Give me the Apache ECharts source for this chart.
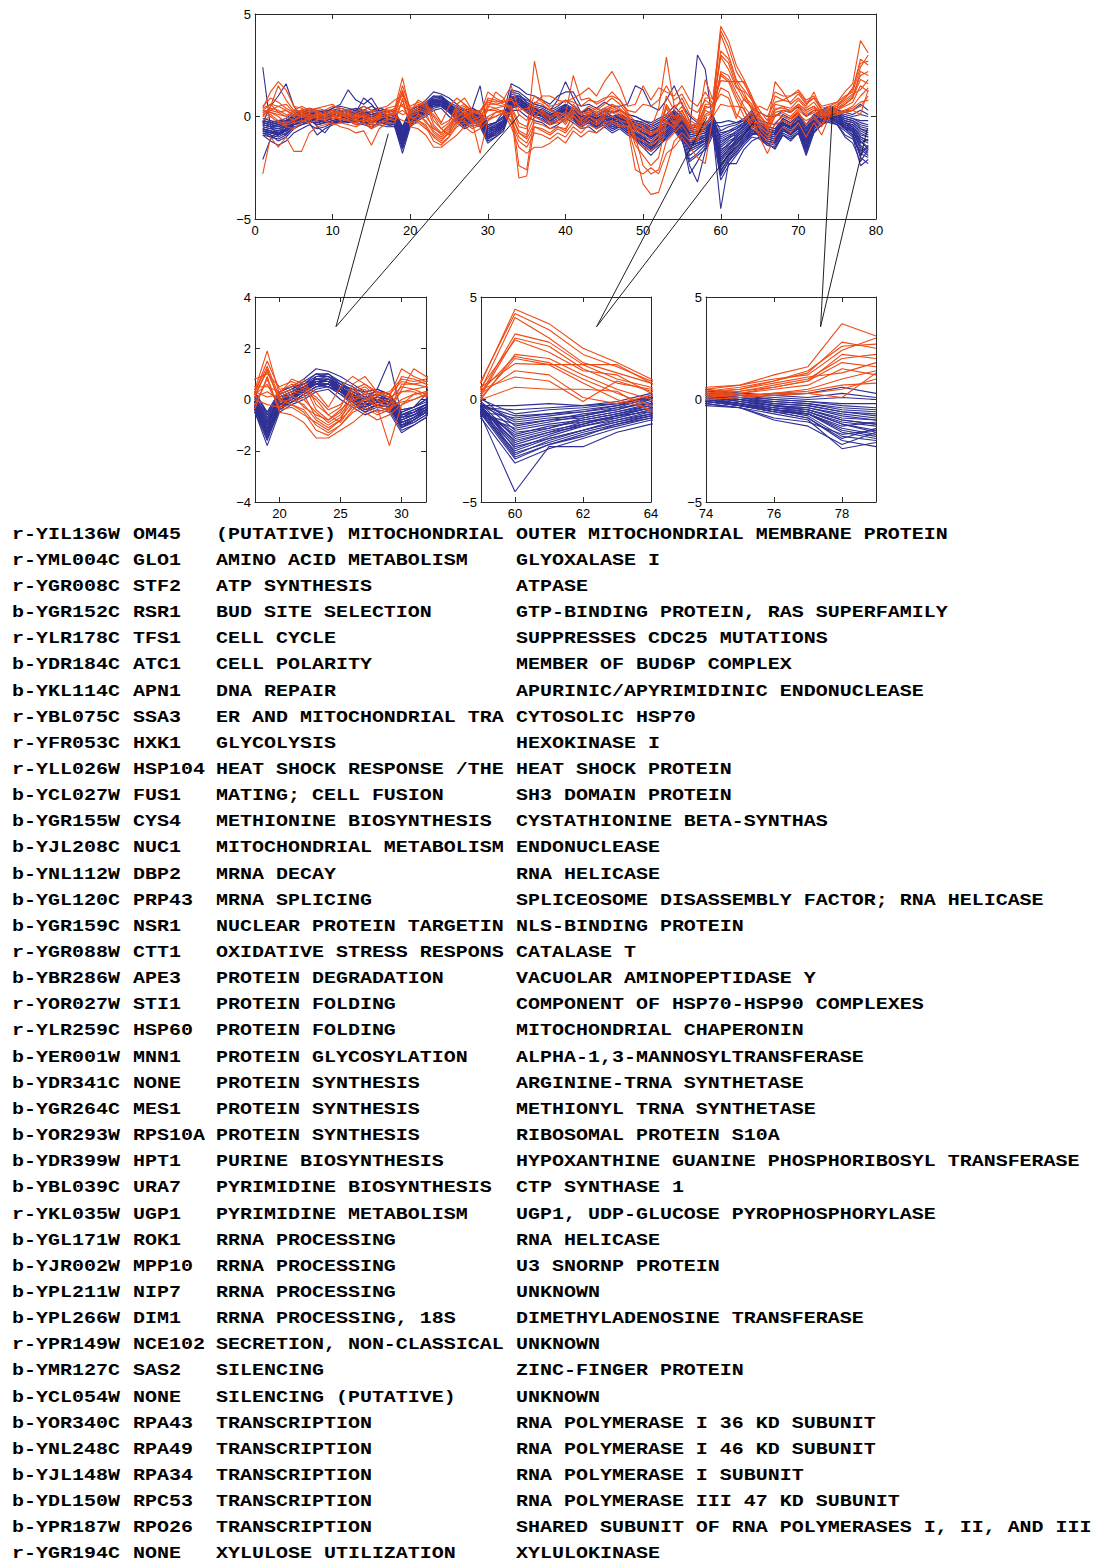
<!DOCTYPE html>
<html><head><meta charset="utf-8">
<script src="https://cdn.jsdelivr.net/npm/echarts@6/dist/echarts.min.js"></script>
<style>html,body{margin:0;padding:0;background:#fff}#c{width:1097px;height:1563px}</style>
</head><body><div id="c"></div>
<script>
// time points 1..79
const timePoints = Array.from({length: 79}, (_, i) => i + 1);

// orange (r-) cluster profiles
const o1 = [0.3,0.6,0.5,0.3,0.1,0.2,-0.1,0.2,0.1,0.2, 0.1,-0.1,-0.2,0.1,-0.1,0.1,0.2,0.4,1.9,0.2, 0.8,0.6,-0.4,-0.8,-0.5,0.3,0.5,0.1,-0.2,0.9, 0.8,0.6,0.5,-0.3,-0.5,0.5,0.2,-0.1,0.1,-0.3, 0.6,0.2,0.5,0.3,0.6,0.9,0.6,0.1,-0.6,-0.9, -1.2,-0.9,0.6,0.0,0.5,-0.2,-0.4,1.8,0.8,4.4, 3.7,2.5,1.8,1.0,0.0,-0.4,0.6,0.5,0.4,0.8, 0.4,0.7,0.2,0.3,0.5,0.9,1.3,2.8,2.5];
const o2 = [0.5,0.9,0.7,0.4,0.2,0.3,0.1,0.0,0.2,0.3, 0.2,0.1,0.0,0.2,0.0,0.2,0.3,0.3,1.5,0.4, 0.5,0.8,-0.2,-0.6,-0.3,0.6,0.9,0.3,0.1,1.2, 0.9,0.7,0.9,0.1,-0.2,0.7,0.6,0.3,0.2,0.1, 2.0,0.8,0.9,0.6,0.8,1.2,0.8,0.2,-0.3,-0.5, -0.8,-0.6,1.0,0.3,0.9,0.1,-0.2,0.9,0.9,4.2, 3.4,2.2,1.6,0.9,0.3,-0.2,1.0,0.8,0.7,1.1, 0.6,0.9,0.4,0.5,0.7,1.2,1.6,3.7,3.1];
const o3 = [0.4,1.2,1.7,1.3,0.5,0.4,0.2,0.3,0.0,0.1, 0.0,0.2,-0.1,0.0,-0.3,0.1,0.2,0.3,1.3,0.1, 0.3,0.2,-0.7,-1.0,-0.7,-0.1,0.3,0.0,-0.4,0.6, 0.6,0.5,0.4,-0.5,-0.6,0.3,0.1,-0.3,-0.2,-0.1, 0.5,0.1,0.3,0.2,0.4,0.6,0.4,0.0,-0.5,-0.3, -0.6,0.4,2.9,0.5,0.7,-0.3,-0.6,0.4,0.5,4.0, 3.0,1.8,1.3,0.8,-0.1,-0.5,0.4,0.4,0.3,0.6, 0.3,0.5,0.1,0.1,0.3,0.6,0.9,2.2,2.0];
const o4 = [0.1,0.3,0.5,0.6,0.2,0.0,-0.2,0.1,-0.1,0.0, -0.1,-0.2,-0.3,-0.1,-0.4,-0.1,0.0,0.1,1.2,-0.1, 0.0,-0.2,-0.8,-1.1,-0.8,0.2,0.4,-0.2,-0.5,0.4, 1.2,0.9,0.2,-0.8,-1.0,2.7,0.8,0.4,0.0,-0.4, 0.2,-0.1,0.1,0.0,0.2,0.4,0.2,-0.1,-1.0,-1.2, -1.4,-1.1,0.1,-0.4,0.1,-0.6,-0.8,0.1,0.3,3.2, 2.8,1.7,1.0,0.6,-0.2,-0.5,1.7,1.2,0.6,0.9, 0.5,1.2,0.3,0.4,0.6,0.9,1.4,2.6,2.7];
const o5 = [0.0,0.5,1.5,0.8,0.3,0.2,0.0,0.1,0.1,0.2, 0.1,0.0,-0.1,0.1,-0.1,0.0,0.1,0.2,1.1,0.0, -0.2,-0.4,-1.0,-1.3,-1.0,-0.4,0.0,-0.3,-1.8,-0.2, 0.2,0.3,0.1,-0.8,-1.1,-0.3,-0.4,-0.6,-0.5,-0.6, 0.0,-0.3,0.0,-0.2,0.1,0.3,0.1,-0.2,-1.2,-1.5, -1.7,-1.3,-0.2,-0.6,-0.1,-0.7,-0.9,0.0,0.2,3.0, 2.6,1.5,0.8,0.5,-0.4,-0.8,0.1,0.0,-0.1,0.3, 0.0,0.2,-0.1,0.2,0.3,0.5,0.7,1.5,1.2];
const o6 = [0.3,0.2,0.1,0.0,-0.2,0.1,0.3,0.4,0.5,0.6, 0.3,0.2,0.1,0.3,0.2,0.4,0.5,0.8,1.0,0.5, 0.7,0.5,0.3,-0.3,0.5,0.9,0.6,0.2,0.3,0.8, 0.7,0.8,1.5,0.3,0.4,0.6,1.0,1.0,0.8,0.7, 0.9,1.1,1.4,1.0,1.7,2.2,1.5,0.5,0.6,1.5, 0.8,1.4,1.2,1.0,1.5,0.8,0.5,1.2,0.6,2.9, 2.3,1.4,1.2,0.3,0.5,0.3,1.2,1.0,1.0,1.3, 0.8,1.0,0.5,0.6,0.7,1.0,1.2,2.4,3.0];
const o7 = [-2.8,-1.0,-1.5,-1.0,-1.7,-1.7,-0.8,-0.5,-0.4,-0.3, -0.5,-0.6,-0.8,-0.7,-1.4,-0.6,-0.3,-0.35,0.9,-0.5, -0.6,-0.9,-1.5,-1.5,-1.2,-0.9,-0.5,-0.8,-0.6,-0.2, 0.0,0.2,-0.5,-1.5,-1.8,-1.5,-1.5,-1.3,-1.0,-1.3, -0.7,-1.0,-0.7,-0.8,-0.5,-0.3,-0.5,-0.5,-2.6,-2.8, -2.5,-2.8,-1.8,-1.5,-1.0,-1.5,-2.0,-2.3,0.0,2.2, 2.0,1.2,0.5,0.0,-1.0,-1.8,-1.0,-0.5,-0.8,-0.3, -1.0,-0.3,-0.9,0.0,0.1,0.3,0.5,1.0,1.4];
const o8 = [0.2,0.4,0.3,0.1,0.0,0.3,0.4,0.2,0.0,0.1, -0.2,0.0,0.1,0.0,-0.2,-0.1,0.0,0.2,0.6,-0.3, 0.1,0.0,-0.5,-0.9,-0.6,0.1,0.2,-0.2,0.0,0.5, 0.4,0.2,0.0,-0.7,-0.9,0.0,-0.2,-0.4,-0.3,-0.2, 0.3,-0.2,0.2,0.4,0.2,0.5,0.3,0.1,-0.7,-0.6, -0.9,-0.7,0.4,-0.3,0.3,-0.5,-0.3,0.5,0.4,2.1, 1.8,1.0,0.3,-0.3,-0.3,-0.6,0.2,0.3,0.2,0.5, 0.2,0.4,0.1,0.3,0.4,0.7,1.0,2.0,2.2];
const o9 = [0.1,0.2,0.0,-0.3,-0.2,0.0,0.1,0.0,-0.2,0.0, 0.0,0.1,-0.2,-0.2,-0.3,0.0,0.1,0.1,0.3,0.0, 0.2,-0.3,-0.6,-0.8,-0.4,0.0,0.1,-0.3,-0.2,0.3, 0.3,0.1,0.2,-3.0,-2.9,-0.5,-0.6,-0.8,-0.5,-0.7, 0.1,-0.5,0.0,-0.3,0.0,0.2,0.0,-0.2,-1.4,-1.9, -2.4,-2.0,-0.3,-0.5,0.0,-0.5,-0.7,0.3,0.1,2.0, 1.7,0.8,0.0,-0.5,-0.5,-0.8,0.0,0.2,0.0,0.4, 0.1,0.3,0.0,0.2,0.4,0.6,0.9,1.8,1.6];
const o10 = [0.2,0.3,0.2,0.3,0.0,0.1,-0.1,0.0,0.1,0.2, 0.2,0.1,0.0,0.0,-0.2,0.1,0.2,0.3,0.1,0.2, 0.4,0.3,0.0,-0.6,-0.9,-0.2,0.0,0.2,0.1,0.3, 0.4,0.5,0.5,-2.4,-2.6,0.0,0.3,0.0,0.2,0.0, 0.4,0.1,0.2,0.1,0.3,0.5,0.3,0.0,-0.5,-0.7, -0.9,-0.6,0.5,-0.1,0.3,-0.4,-0.5,0.6,0.6,1.75, 1.7,1.7,1.7,0.8,0.1,-0.4,0.3,0.5,0.2,0.6, 0.3,0.5,0.2,0.1,0.2,0.3,0.4,0.7,0.8];
const o11 = [-0.2,0.0,-0.3,-0.5,-0.6,-0.3,0.0,-0.1,-0.2,-0.4, -0.3,-0.4,-0.5,-0.3,-0.6,-0.4,-0.2,0.0,-0.2,-0.3, -0.2,-0.5,-1.2,-1.4,-1.0,-0.5,-0.3,-0.6,-0.4,0.0, 0.2,0.3,-0.3,-1.2,-1.5,-0.8,-0.9,-1.1,-0.8,-1.0, -0.5,-0.8,-0.4,-0.6,-0.3,-0.2,-0.4,-0.5,-1.8,-3.3, -3.8,-3.7,-2.5,-1.2,-0.8,-1.2,-1.0,-0.5,0.3,1.4, 1.2,0.1,-0.2,0.2,-0.6,-1.0,-0.4,-0.2,-0.4,0.1, -0.2,0.0,-0.4,0.4,0.5,0.8,1.1,1.3,1.8];
const o12 = [0.4,0.6,0.2,0.0,0.3,0.5,0.3,0.4,0.3,0.5, 0.4,0.3,0.2,0.5,0.3,0.2,0.4,0.5,0.5,0.3, 0.6,0.4,0.1,-0.4,-0.2,0.4,0.6,0.3,0.2,0.7, 0.6,0.7,0.8,0.5,0.2,1.0,0.7,0.5,0.6,0.8, 0.7,0.5,0.8,0.7,0.9,1.0,0.8,0.3,0.2,0.6, 0.5,0.8,1.5,0.8,1.1,0.4,0.2,0.8,0.5,1.1, 0.9,-0.1,0.9,0.4,0.2,0.0,0.7,0.8,1.0,1.2, 0.7,0.9,0.3,0.0,0.1,0.2,0.3,0.5,1.0];
const o13 = [0.0,0.1,-0.2,-0.4,-0.3,-0.2,-0.3,-0.2,0.0,-0.1, -0.1,-0.2,-0.4,-0.3,-0.5,-0.3,-0.1,-0.2,0.8,-0.4, -0.3,-0.6,-0.9,-1.2,-0.8,-0.3,-0.2,-0.5,-0.3,-0.1, 0.0,0.2,-0.2,-1.0,-1.3,-0.5,-0.7,-0.9,-0.6,-0.8, -0.3,-0.6,-0.2,-0.4,-0.1,0.0,-0.2,-0.3,-1.0,-2.4, -2.8,-2.6,-1.2,-0.8,-0.4,-1.0,-1.2,-0.3,0.0,0.6, 0.5,0.5,0.4,-0.6,-0.8,-1.2,-0.3,0.0,-0.2,0.2, -0.4,-0.1,-0.5,0.2,0.2,0.3,0.3,0.1,1.3];

// blue (b-) cluster profiles
const b1 = [-0.8,-1.0,-1.1,-0.9,-0.4,-0.3,-0.2,-0.4,-0.3,-0.2, -0.1,-0.2,-0.1,-0.2,-0.3,-0.1,-0.3,-0.4,-1.5,-0.3, 0.0,0.3,0.9,1.0,0.6,0.2,-0.3,-0.1,-0.2,-1.1, -0.8,-0.5,1.2,1.1,0.7,0.4,0.2,-0.1,0.3,0.6, 0.3,-0.2,-0.1,-0.4,-0.1,-0.4,-0.3,-0.6,-0.9,-1.3, -1.6,-1.2,-0.8,-0.4,-0.9,-2.1,-1.8,-1.4,-0.8,-4.5, -2.3,-2.3,-1.6,-1.2,-1.0,-1.3,-1.4,-0.8,-1.0,-0.7, -1.6,-0.6,-0.3,0.0,-0.3,-0.6,-0.9,-2.0,-2.3];
const b2 = [-0.7,-0.9,-1.0,-0.8,-0.3,-0.2,-0.1,-0.3,-0.2,-0.1, -0.2,-0.1,-0.3,-0.1,-0.2,-0.2,-0.2,-0.3,-1.4,-0.2, 0.1,0.4,0.8,0.9,0.5,0.0,-0.4,-0.2,-0.3,-1.0, -0.9,-0.6,1.0,0.9,0.5,0.2,0.0,-0.3,0.1,0.4, 0.1,-0.3,-0.2,-0.5,-0.2,-0.5,-0.4,-0.7,-1.1,-1.5, -1.9,-1.5,-1.0,-0.6,-1.1,-2.4,-3.2,-1.7,-0.9,-3.1, -2.4,-1.9,-1.4,-1.0,-1.1,-1.4,-1.5,-0.9,-1.1,-0.8, -1.7,-0.8,-0.4,-0.2,-0.4,-0.7,-1.0,-2.4,-2.1];
const b3 = [-0.6,-0.7,-0.8,-0.6,-0.3,-0.2,0.1,0.0,0.2,0.4, 0.6,1.3,0.8,0.6,0.9,0.3,0.0,-0.2,-1.2,-0.1, 0.2,0.5,0.7,0.8,0.5,0.1,-0.2,0.0,-0.1,-0.9, -0.7,-0.4,0.9,0.8,0.6,0.3,0.3,0.0,0.2,0.5, 0.3,0.0,0.1,-0.2,0.1,-0.2,-0.1,-0.4,-0.7,-1.0, -1.4,-1.1,-0.7,-0.3,-0.8,-1.9,-1.6,-1.3,-0.7,-2.9, -2.2,-1.7,-1.3,-0.9,-0.8,-1.1,-1.2,-0.6,-0.9,-0.5, -1.4,-0.5,-0.2,0.1,-0.2,-0.5,-0.8,-1.8,-2.0];
const b4 = [-0.5,-0.6,-0.7,-0.5,-0.2,0.0,0.1,-0.1,-0.2,0.0, 0.1,0.0,0.1,-0.1,0.0,0.1,-0.1,-0.1,-1.1,0.0, 0.2,0.5,0.8,0.7,0.3,0.0,-0.3,0.1,0.0,-0.8, -0.6,-0.3,0.7,0.9,0.6,0.4,0.3,0.1,0.2,0.3, 0.2,-0.1,0.0,-0.3,0.0,-0.3,-0.2,-0.5,-0.8,-1.2, -1.5,-1.2,-0.9,-0.5,-1.0,-2.8,-2.2,-1.5,-0.6,-2.8, -2.2,-1.8,-1.2,-0.8,-0.9,-1.2,-1.3,-0.7,-0.8,-0.6, -1.5,-0.6,-0.3,-0.1,-0.3,-0.6,-0.7,-1.5,-1.8];
const b5 = [2.4,-0.5,-0.9,-0.7,-0.4,-0.2,0.0,-0.2,-0.1,0.1, 0.0,0.1,-0.1,0.2,-0.1,0.0,-0.2,-0.3,-1.3,-0.2, 0.1,0.3,0.6,0.8,0.4,0.2,-0.1,0.0,-0.2,-1.0, -0.7,-0.5,0.8,0.7,0.4,0.2,0.1,-0.2,0.0,0.3, 0.1,-0.2,-0.1,-0.3,-0.1,-0.3,-0.2,-0.4,-0.6,-0.9, -1.2,-0.9,-0.6,-0.2,-0.6,-1.6,-1.4,-1.2,-0.5,-2.7, -2.0,-1.5,-1.1,-0.7,-0.8,-1.0,-1.1,-0.5,-0.7,-0.4, -1.2,-0.4,-0.2,-0.3,-0.4,-1.0,-1.3,-2.2,-1.6];
const b6 = [-0.4,-0.5,-0.4,-0.3,-0.1,0.1,0.2,0.0,0.0,0.1, 0.2,0.1,0.2,0.0,0.1,0.2,0.0,-0.1,-0.9,0.1, 0.3,0.6,1.0,1.0,0.7,0.3,0.0,0.2,0.1,-0.6, -0.5,-0.2,1.3,1.2,0.9,0.6,0.5,0.3,0.8,1.7, 0.9,0.2,0.4,0.0,0.3,0.0,0.1,-0.2,-0.4,-0.6, -0.9,-0.7,-0.4,0.0,-0.4,-1.3,-1.1,-0.9,-0.4,-2.6, -2.1,-1.6,-1.2,-0.9,-0.6,-0.8,-0.9,-0.4,-0.5,-0.2, -1.0,-0.3,0.0,0.2,-0.1,-0.4,-0.6,-1.2,-1.5];
const b7 = [-0.9,-1.2,-1.4,-1.2,-0.8,-0.6,-0.4,-0.6,-0.5,-0.3, -0.3,-0.2,-0.3,-0.4,-0.5,-0.3,-0.4,-0.5,-1.6,-0.4, -0.1,0.2,0.5,0.6,0.3,-0.1,-0.5,-0.3,-0.4,-1.2, -1.0,-0.7,0.5,0.6,0.3,0.0,-0.1,-0.4,-0.2,0.1, -0.1,-0.5,-0.3,-0.6,-0.3,-0.6,-0.5,-0.8,-1.0,-1.4, -1.7,-1.4,-1.1,-0.7,-1.2,-2.2,-1.9,-1.6,-0.7,-2.5, -1.9,-1.5,-1.0,-0.6,-1.0,-1.4,-1.5,-0.9,-1.1,-0.8, -1.8,-0.7,-0.4,0.0,-0.2,-0.5,-0.7,-1.6,-1.9];
const b8 = [-0.3,0.5,1.0,1.6,0.5,0.0,0.1,-0.1,0.0,0.2, 0.1,0.0,0.2,0.1,0.0,0.1,0.1,0.0,-0.8,0.0, 0.2,0.4,0.6,0.6,0.3,0.1,-0.1,0.1,0.0,-0.7, -0.5,-0.3,0.6,0.7,0.4,0.2,0.1,-0.1,0.1,0.3, 0.2,-0.1,0.1,-0.1,0.1,-0.1,0.0,-0.2,-0.3,-0.4, -0.7,-0.5,-0.3,0.1,-0.3,-1.0,-0.9,-0.8,-0.3,-2.4, -1.8,-1.3,-0.9,-0.5,-0.5,-0.7,-0.8,-0.3,-0.5,-0.2, -0.8,-0.2,0.0,0.2,0.0,-0.3,-0.4,-0.8,-1.0];
const b9 = [-0.6,-0.8,-0.9,-0.7,-0.3,-0.1,0.0,-0.5,-0.8,-0.3, -0.1,-0.2,0.0,-0.1,-0.2,-0.1,-0.2,-0.3,-1.4,-0.2, 0.0,0.3,0.7,0.7,0.4,0.0,-0.3,-0.1,-0.2,-1.0, -0.8,-0.5,0.8,0.8,0.5,0.3,0.2,-0.1,0.1,0.4, 0.1,-0.2,-0.1,-0.4,-0.1,-0.4,-0.3,-0.6,-0.8,-1.1, -1.4,-1.0,-0.7,-0.3,-0.7,-1.7,-1.5,-1.3,-0.6,-2.3, -1.9,-1.5,-1.1,-0.8,-0.9,-1.2,-1.3,-0.7,-0.9,-0.6, -1.5,-0.5,-0.2,-0.1,-0.3,-0.6,-0.9,-1.9,-1.4];
const b10 = [-0.4,-0.5,-0.5,-0.4,-0.1,0.0,0.1,0.0,0.1,0.0, 0.1,0.0,-0.1,0.1,0.0,0.1,0.0,-0.1,-0.9,0.0, 0.1,0.4,0.6,0.5,0.3,0.2,0.0,0.4,1.5,-0.6, -0.5,-0.3,0.7,0.6,0.4,0.3,0.2,0.0,0.3,0.5, 0.3,0.0,0.1,-0.1,0.1,-0.1,0.0,-0.3,-0.5,-0.7, -1.0,-0.8,-0.5,-0.1,-0.5,-1.4,-1.2,-1.0,-0.4,-2.2, -1.7,-1.2,-0.8,-0.4,-0.6,-0.9,-1.0,-0.4,-0.6,-0.3, -1.1,-0.3,0.0,0.1,-0.1,-0.3,-0.5,-1.0,-1.2];
const b11 = [-0.3,-0.4,-0.3,-0.2,0.0,0.1,0.2,0.1,0.2,0.1, 0.2,0.3,0.1,0.2,0.1,0.2,0.1,0.0,-0.7,0.1, 0.3,0.5,0.8,0.8,0.6,0.3,0.1,0.2,0.0,-0.6, -0.4,-0.2,0.5,0.5,0.3,0.1,0.0,-0.2,0.0,0.2, 0.0,-0.3,-0.1,-0.3,0.0,-0.2,-0.1,-0.3,-0.4,-0.5, -0.8,-0.6,-0.4,0.0,-0.4,-1.1,-1.0,-0.9,-0.3,-2.1, -1.6,-1.3,-1.0,-0.7,-0.6,-0.8,-0.9,-0.3,-0.6,-0.2, -0.9,-0.3,0.1,0.3,0.1,-0.2,-0.3,-0.6,-0.8];
const b12 = [-2.1,-1.1,-0.9,-0.6,-0.3,-0.2,-0.1,-0.2,-0.2,-0.1, 0.0,-0.1,0.0,-0.2,-0.1,-0.1,-0.2,-0.2,-1.2,-0.2, 0.0,0.3,0.6,0.6,0.3,0.0,-0.2,-0.1,-0.2,-0.9, -0.7,-0.4,0.6,0.7,0.4,0.2,0.1,-0.1,0.1,0.3, 0.1,-0.2,0.0,-0.2,0.0,-0.2,-0.1,-0.4,-0.6,-0.8, -1.1,-0.8,-0.5,-0.2,-0.5,-1.4,-1.3,-1.1,-0.5,-2.0, -1.6,-1.1,-0.9,-0.5,-0.7,-1.0,-1.1,-0.5,-0.8,-0.4, -1.3,-0.4,-0.1,0.0,-0.2,-0.5,-0.7,-1.4,-1.7];
const b13 = [-0.2,-0.3,-0.4,-0.3,0.0,0.2,0.3,0.2,0.1,0.2, 0.3,0.2,0.3,0.2,0.2,0.3,0.2,0.1,-0.6,0.2, 0.4,0.7,1.0,0.9,0.7,0.5,0.2,0.3,0.2,-0.5, -0.3,-0.1,0.9,1.0,0.7,0.5,0.4,0.2,0.4,0.6, 0.4,0.1,0.2,0.0,0.2,0.0,0.1,-0.1,-0.2,-0.3, -0.5,-0.3,-0.1,0.3,-0.1,-0.8,-0.7,-0.6,-0.2,-1.9, -1.5,-1.2,-0.8,-0.4,-0.4,-0.6,-0.7,-0.2,-0.4,0.0, -0.6,-0.1,0.2,0.3,0.1,-0.1,-0.2,-0.5,-0.6];
const b14 = [-0.5,-0.6,-0.6,-0.4,-0.2,-0.1,0.0,-0.1,0.0,0.0, 0.0,0.1,0.0,0.1,-0.1,0.0,-0.1,-0.2,-1.0,-0.1, 0.1,0.4,0.7,0.6,0.4,0.1,-0.2,0.0,-0.1,-0.8, -0.6,-0.4,0.8,0.8,0.5,0.3,0.2,0.0,0.2,0.4, 0.2,-0.1,0.0,-0.2,0.0,-0.2,-0.1,-0.3,-0.5,-0.7, -0.9,-0.6,-0.4,0.2,-0.3,-0.6,3.0,2.3,-0.4,-1.8, -1.4,-1.0,-0.7,-0.3,-0.5,-0.7,-0.8,-0.3,-0.5,-0.2, -0.8,-0.2,0.0,0.0,-0.2,-0.4,-0.6,-1.1,-1.3];
const b15 = [-0.7,-0.8,-0.7,-0.6,-0.3,-0.2,-0.1,-0.3,-0.2,-0.1, -0.1,-0.2,-0.1,-0.3,-0.6,-0.2,-0.1,-0.3,-1.1,-0.3, -0.1,0.2,0.5,0.5,0.2,-0.2,-0.5,-0.2,-0.3,-1.0, -0.8,-0.5,0.4,0.5,0.2,0.0,-0.2,-0.4,-0.2,0.1, -0.1,-0.4,-0.2,-0.5,-0.2,-0.5,-0.3,-0.6,-0.8,-1.0, -1.2,-0.9,-0.7,-0.3,-0.7,-1.5,-1.3,-1.1,-0.6,-1.7, -1.3,-1.1,-0.8,-0.6,-0.8,-1.0,-1.1,-0.6,-0.8,-0.5, -1.3,-0.5,-0.2,0.4,0.2,0.0,-0.1,-0.3,-0.4];
const b16 = [-0.6,-0.7,-0.9,-0.7,-0.3,-0.1,0.0,-0.2,-0.1,0.0, 0.0,-0.1,0.2,0.9,0.6,0.1,-0.1,-0.2,-1.3,-0.2, 0.0,0.4,0.8,0.8,0.5,0.1,-0.1,0.0,-0.2,-0.9, -0.7,-0.4,0.9,0.9,0.6,0.4,0.3,0.1,0.3,0.5, 0.2,-0.1,0.0,-0.2,0.1,-0.1,0.0,-0.3,-0.5,-0.8, -1.0,-0.7,-0.5,-0.1,-0.5,-1.2,-1.1,-1.0,-0.5,-1.6, -1.4,-0.9,-0.6,-0.2,-0.6,-0.9,-1.0,-0.4,-0.6,-0.3, -1.0,-0.3,-0.1,-0.1,-0.3,-0.5,-0.7,-1.3,-1.1];
const b17 = [-0.3,-0.4,-0.5,-0.3,0.1,0.2,0.3,0.1,0.2,0.3, 0.2,0.3,0.2,0.3,0.2,0.4,0.3,0.2,-0.5,0.3, 0.5,0.6,0.8,0.7,0.5,0.4,0.3,0.4,0.2,-0.4, -0.3,0.0,0.6,0.5,0.3,0.2,0.1,0.0,0.2,0.3, 0.3,0.2,0.3,0.1,0.3,0.2,0.3,0.1,0.0,-0.2, -0.4,-0.2,0.0,0.3,0.0,-0.6,-0.5,-0.4,-0.1,-1.5, -1.2,-1.0,-0.7,-0.4,-0.3,-0.5,-0.6,-0.1,-0.3,0.1, -0.5,0.0,0.3,0.5,0.3,0.2,0.3,0.6,0.3];
const b18 = [-0.8,-0.9,-1.2,-1.0,-0.6,-0.4,-0.3,-0.9,-0.6,-0.4, -0.2,-0.3,-0.2,-0.3,-0.4,-0.4,-0.5,-0.5,-1.8,-0.5, -0.2,0.0,0.3,0.4,0.0,-0.3,-0.6,-0.4,-0.5,-1.3, -1.0,-0.7,0.3,0.3,0.0,-0.2,-0.3,-0.6,-0.4,-0.1, -0.3,-0.6,-0.5,-0.8,-0.5,-0.8,-0.6,-0.9,-1.1,-1.3, -1.6,-1.3,-1.0,-0.6,-1.0,-1.6,-1.4,-1.2,-0.8,-1.4, -1.1,-0.8,-0.5,-0.1,-0.7,-0.9,-1.0,-0.5,-0.7,-0.4, -1.2,-0.4,-0.1,0.1,-0.1,-0.3,-0.5,-0.9,-1.0];
const b19 = [-0.2,-0.3,-0.2,-0.1,0.2,0.3,0.4,0.3,0.2,0.4, 0.5,0.4,0.3,0.5,0.3,0.4,0.3,0.3,-0.5,0.3, 0.5,0.8,1.2,1.1,0.9,0.6,0.3,0.4,0.2,-0.4, -0.3,0.2,1.6,1.4,1.1,1.0,0.8,0.6,1.0,1.2, 1.2,0.5,0.6,0.4,0.7,0.5,0.5,0.6,1.5,1.3, 0.5,0.3,0.8,1.5,0.6,0.0,-0.3,-0.4,0.1,-1.3, -1.0,-0.9,-0.6,-0.3,0.2,0.0,0.0,0.3,0.2,0.5, 0.0,0.3,0.3,0.2,0.1,0.0,-0.1,-0.2,-0.2];
const b20 = [-0.9,-1.0,-0.8,-0.9,-0.5,-0.4,-0.2,-0.4,-0.3,-0.2, -0.3,-0.2,-0.4,-0.3,-0.3,-0.2,-0.4,-0.4,-1.5,-0.4, -0.1,0.1,0.4,0.5,0.2,-0.1,-0.4,-0.2,-0.3,-1.1, -0.9,-0.6,0.4,0.5,0.2,0.0,-0.2,-0.4,-0.2,0.0, -0.2,-0.5,-0.3,-0.6,-0.4,-0.7,-0.5,-0.8,-1.0,-1.2, -1.5,-1.2,-0.9,-0.5,-0.9,-1.4,-1.3,-1.2,-0.7,-1.2, -1.0,-0.7,-0.5,0.0,-0.9,-1.3,-1.6,-0.9,-1.2,-0.8, -1.9,-0.8,-0.4,-0.2,-0.4,-0.9,-1.1,-1.7,-1.5];
const b21 = [-0.1,-0.2,-0.3,-0.2,0.0,0.1,0.2,0.0,0.1,0.2, 0.1,0.2,0.1,0.0,0.1,0.2,0.1,0.0,-0.8,0.0, 0.2,0.4,0.6,0.6,0.4,0.2,0.0,0.1,-0.1,-0.7, -0.5,-0.2,0.6,0.6,0.4,0.3,0.3,0.1,0.2,0.4, 0.2,0.0,0.1,-0.1,0.1,-0.1,0.0,-0.2,-0.3,-0.4, -0.6,-0.4,-0.2,0.1,-0.2,-0.9,-0.8,-0.6,-0.3,-1.1, -0.9,-0.8,-0.4,-0.2,-0.5,-0.7,-0.8,-0.3,-0.5,-0.2, -0.9,-0.2,0.0,0.1,0.0,-0.3,-0.4,-0.7,-0.9];
const b22 = [-0.4,-0.5,-0.6,-0.5,-0.2,0.0,0.1,0.0,-0.1,0.1, 0.0,0.1,0.0,0.1,0.0,0.0,-0.1,-0.1,-0.9,0.1, 0.3,0.5,0.7,0.7,0.5,0.2,-0.1,0.1,0.0,-0.7, -0.6,-0.3,0.7,0.8,0.5,0.3,0.2,0.0,0.2,0.3, 0.1,-0.1,0.1,-0.1,0.1,-0.1,0.1,-0.1,-0.2,-0.3, -0.5,-0.3,-0.1,0.2,-0.1,-0.7,-0.6,-0.5,-0.2,-1.0, -0.8,-0.6,-0.4,0.1,-0.3,-0.5,-0.6,-0.1,-0.3,0.0, -0.6,0.0,0.2,0.3,0.2,0.1,0.0,0.1,0.0];
const b23 = [-0.7,-0.8,-0.9,-0.6,-0.4,-0.3,-0.2,-0.4,-0.3,-0.3, -0.2,-0.3,-0.2,-0.3,-0.2,-0.3,-0.3,-0.4,-1.3,-0.3, -0.1,0.2,0.5,0.6,0.3,-0.1,-0.4,-0.2,-0.3,-1.1, -0.8,-0.5,0.5,0.6,0.3,0.1,0.0,-0.3,-0.1,0.2, 0.0,-0.4,-0.2,-0.5,-0.3,-0.6,-0.4,-0.7,-0.9,-1.1, -1.3,-1.0,-0.8,-0.4,-0.8,-1.3,-1.2,-1.0,-0.6,-0.9, -0.7,-0.5,-0.3,0.0,-0.7,-1.1,-1.2,-0.6,-0.9,-0.5, -1.6,-0.5,-0.2,0.0,-0.2,-0.4,-0.5,-1.0,-1.2];
const b24 = [-0.3,-0.4,-0.3,-0.2,0.0,0.0,-0.1,0.1,0.2,0.1, 0.2,0.1,0.3,0.2,0.1,0.1,0.0,0.1,-0.7,0.1, 0.2,0.4,0.6,0.5,0.3,0.1,-0.1,0.0,-0.1,-0.6, -0.4,-0.2,0.6,0.6,0.3,0.2,0.1,0.0,0.1,0.3, 0.1,-0.1,0.0,-0.1,0.0,-0.2,0.0,-0.2,-0.3,-0.5, -0.7,-0.5,-0.3,0.0,-0.3,-0.8,-0.7,-0.6,-0.3,-0.8, -0.7,-0.6,-0.3,0.2,-0.4,-0.6,-0.7,-0.2,-0.4,-0.1, -0.7,-0.1,0.1,0.2,0.0,-0.1,-0.2,-0.4,-0.5];
const b25 = [-0.2,-0.3,-0.2,-0.2,0.1,0.3,0.4,0.2,0.3,0.3, 0.4,0.3,0.4,0.3,0.5,0.3,0.2,0.3,-0.6,0.2, 0.4,0.6,0.9,0.9,0.6,0.4,0.1,0.2,0.1,-0.5, -0.3,0.0,1.1,1.0,0.8,0.6,0.5,0.3,0.5,0.8, 0.5,0.2,0.4,0.2,0.4,0.2,0.3,0.1,0.0,-0.2, -0.3,-0.1,0.1,0.5,0.1,-0.5,-0.4,-0.3,0.0,-0.7, -0.5,-0.4,-0.2,0.1,-0.2,-0.3,-0.4,0.1,-0.1,0.2, -0.4,0.1,0.3,0.4,0.3,0.2,0.1,0.3,0.1];
const b26 = [-0.6,-0.7,-0.8,-0.6,-0.3,-0.1,-0.2,-0.3,-0.2,-0.1, -0.1,0.0,-0.1,-0.1,-0.2,-0.1,-0.2,-0.2,-1.0,-0.1, 0.1,0.3,0.7,0.7,0.4,0.0,-0.3,-0.1,-0.2,-0.9, -0.7,-0.4,0.7,0.7,0.4,0.2,0.1,-0.1,0.1,0.3, 0.0,-0.3,-0.1,-0.3,-0.1,-0.3,-0.2,-0.4,-0.6,-0.8, -1.0,-0.7,-0.5,-0.1,-0.5,-1.0,-0.9,-0.8,-0.4,-0.5, -0.4,-0.3,-0.1,0.3,-0.4,-0.7,-0.8,-0.3,-0.5,-0.2, -1.0,-0.3,0.0,0.1,0.0,-0.2,-0.3,-0.6,-0.7];
const b27 = [-0.4,-0.5,-0.4,-0.5,-0.2,-0.1,0.0,-0.1,-0.1,0.0, 0.0,-0.1,0.0,-0.1,0.0,-0.1,-0.1,-0.1,-0.9,-0.1, 0.1,0.3,0.6,0.6,0.3,0.0,-0.2,-0.1,-0.2,-0.8, -0.6,-0.3,0.6,0.6,0.4,0.2,0.1,-0.1,0.1,0.3, 0.1,-0.2,0.0,-0.2,0.0,-0.2,-0.1,-0.3,-0.4,-0.6, -0.8,-0.5,-0.3,0.0,-0.4,-0.9,-0.8,-0.7,-0.3,-0.3, -0.2,-0.3,-0.2,0.1,-0.4,-0.7,-0.8,-0.3,-0.5,-0.2, -0.9,-0.3,-0.1,-0.1,-0.3,-0.5,-0.6,-1.2,-1.6];

const orangeProfiles = [o1,o2,o3,o4,o5,o6,o7,o8,o9,o10,o11,o12,o13];
const blueProfiles = [b1,b2,b3,b4,b5,b6,b7,b8,b9,b10,b11,b12,b13,b14,b15,b16,b17,b18,b19,b20,b21,b22,b23,b24,b25,b26,b27];

// gene table
const geneIds = ['r-YIL136W','r-YML004C','r-YGR008C','b-YGR152C','r-YLR178C','b-YDR184C','b-YKL114C','r-YBL075C','r-YFR053C','r-YLL026W','b-YCL027W','b-YGR155W','b-YJL208C','b-YNL112W','b-YGL120C','b-YGR159C','r-YGR088W','b-YBR286W','r-YOR027W','r-YLR259C','b-YER001W','b-YDR341C','b-YGR264C','b-YOR293W','b-YDR399W','b-YBL039C','r-YKL035W','b-YGL171W','b-YJR002W','b-YPL211W','b-YPL266W','r-YPR149W','b-YMR127C','b-YCL054W','b-YOR340C','b-YNL248C','b-YJL148W','b-YDL150W','b-YPR187W','r-YGR194C'];
const geneNames = ['OM45','GLO1','STF2','RSR1','TFS1','ATC1','APN1','SSA3','HXK1','HSP104','FUS1','CYS4','NUC1','DBP2','PRP43','NSR1','CTT1','APE3','STI1','HSP60','MNN1','NONE','MES1','RPS10A','HPT1','URA7','UGP1','ROK1','MPP10','NIP7','DIM1','NCE102','SAS2','NONE','RPA43','RPA49','RPA34','RPC53','RPO26','NONE'];
const processes = ['(PUTATIVE) MITOCHONDRIAL','AMINO ACID METABOLISM','ATP SYNTHESIS','BUD SITE SELECTION','CELL CYCLE','CELL POLARITY','DNA REPAIR','ER AND MITOCHONDRIAL TRA','GLYCOLYSIS','HEAT SHOCK RESPONSE /THE','MATING; CELL FUSION','METHIONINE BIOSYNTHESIS','MITOCHONDRIAL METABOLISM','MRNA DECAY','MRNA SPLICING','NUCLEAR PROTEIN TARGETIN','OXIDATIVE STRESS RESPONS','PROTEIN DEGRADATION','PROTEIN FOLDING','PROTEIN FOLDING','PROTEIN GLYCOSYLATION','PROTEIN SYNTHESIS','PROTEIN SYNTHESIS','PROTEIN SYNTHESIS','PURINE BIOSYNTHESIS','PYRIMIDINE BIOSYNTHESIS','PYRIMIDINE METABOLISM','RRNA PROCESSING','RRNA PROCESSING','RRNA PROCESSING','RRNA PROCESSING, 18S','SECRETION, NON-CLASSICAL','SILENCING','SILENCING (PUTATIVE)','TRANSCRIPTION','TRANSCRIPTION','TRANSCRIPTION','TRANSCRIPTION','TRANSCRIPTION','XYLULOSE UTILIZATION'];
const descriptions = ['OUTER MITOCHONDRIAL MEMBRANE PROTEIN','GLYOXALASE I','ATPASE','GTP-BINDING PROTEIN, RAS SUPERFAMILY','SUPPRESSES CDC25 MUTATIONS','MEMBER OF BUD6P COMPLEX','APURINIC/APYRIMIDINIC ENDONUCLEASE','CYTOSOLIC HSP70','HEXOKINASE I','HEAT SHOCK PROTEIN','SH3 DOMAIN PROTEIN','CYSTATHIONINE BETA-SYNTHAS','ENDONUCLEASE','RNA HELICASE','SPLICEOSOME DISASSEMBLY FACTOR; RNA HELICASE','NLS-BINDING PROTEIN','CATALASE T','VACUOLAR AMINOPEPTIDASE Y','COMPONENT OF HSP70-HSP90 COMPLEXES','MITOCHONDRIAL CHAPERONIN','ALPHA-1,3-MANNOSYLTRANSFERASE','ARGININE-TRNA SYNTHETASE','METHIONYL TRNA SYNTHETASE','RIBOSOMAL PROTEIN S10A','HYPOXANTHINE GUANINE PHOSPHORIBOSYL TRANSFERASE','CTP SYNTHASE 1','UGP1, UDP-GLUCOSE PYROPHOSPHORYLASE','RNA HELICASE','U3 SNORNP PROTEIN','UNKNOWN','DIMETHYLADENOSINE TRANSFERASE','UNKNOWN','ZINC-FINGER PROTEIN','UNKNOWN','RNA POLYMERASE I 36 KD SUBUNIT','RNA POLYMERASE I 46 KD SUBUNIT','RNA POLYMERASE I SUBUNIT','RNA POLYMERASE III 47 KD SUBUNIT','SHARED SUBUNIT OF RNA POLYMERASES I, II, AND III','XYLULOKINASE'];

// panel axis ranges and ticks
const panelXRange = [[0,80],[18,32],[59,64],[74,79]];
const panelXTicks = [[0,10,20,30,40,50,60,70,80],[20,25,30],[60,62,64],[74,76,78]];
const panelYRange = [[-5,5],[-4,4],[-5,5],[-5,5]];
const panelYTicks = [[-5,0,5],[-4,-2,0,2,4],[-5,0,5],[-5,0,5]];

// ---------------------------------------------------------------
[...orangeProfiles, ...blueProfiles].forEach((a, i) => {
  if (a.length !== 79) throw new Error('profile ' + i + ' has ' + a.length + ' values');
});

const ORANGE = '#EE4B16';
const BLUE = '#2F2F95';
const AXIS = '#2a2a2a';
const grids = [
  {left: 255, top: 14, width: 621, height: 205},
  {left: 255, top: 297, width: 171, height: 205},
  {left: 481, top: 297, width: 170, height: 205},
  {left: 706, top: 297, width: 170, height: 205}
].map(g => Object.assign({show: false, containLabel: false, outerBoundsMode: 'none'}, g));

const fmt = v => String(v).replace('-', '\u2212');
const xAxes = [], yAxes = [];
for (const side of ['bottom', 'top']) {
  grids.forEach((g, gi) => {
    xAxes.push({
      type: 'value', gridIndex: gi, position: side,
      min: panelXRange[gi][0], max: panelXRange[gi][1],
      axisLine: {show: true, onZero: false, lineStyle: {color: AXIS, width: 1}},
      axisTick: {show: true, inside: true, length: 5, customValues: panelXTicks[gi], lineStyle: {color: AXIS}},
      axisLabel: {show: side === 'bottom', customValues: panelXTicks[gi], color: '#000', fontSize: 13,
        fontFamily: 'Liberation Sans, Arial, sans-serif', margin: 5, formatter: fmt, hideOverlap: false, showMinLabel: true, showMaxLabel: true},
      splitLine: {show: false}
    });
  });
}
for (const side of ['left', 'right']) {
  grids.forEach((g, gi) => {
    yAxes.push({
      type: 'value', gridIndex: gi, position: side,
      min: panelYRange[gi][0], max: panelYRange[gi][1],
      axisLine: {show: true, onZero: false, lineStyle: {color: AXIS, width: 1}},
      axisTick: {show: true, inside: true, length: 5, customValues: panelYTicks[gi], lineStyle: {color: AXIS}},
      axisLabel: {show: side === 'left', customValues: panelYTicks[gi], color: '#000', fontSize: 13,
        fontFamily: 'Liberation Sans, Arial, sans-serif', margin: 4, formatter: fmt, showMinLabel: true, showMaxLabel: true},
      splitLine: {show: false}
    });
  });
}

const series = [];
function addSeries(name, profile, color, gi) {
  series.push({
    type: 'line', name, xAxisIndex: gi, yAxisIndex: gi,
    data: profile.map((v, i) => [timePoints[i], v]),
    showSymbol: false, symbol: 'none', silent: true, animation: false, clip: true,
    lineStyle: {width: 1.1, color}, itemStyle: {color}
  });
}
const redIds = geneIds.filter(s => s.startsWith('r-'));
const blueIds = geneIds.filter(s => s.startsWith('b-'));
for (let gi = 0; gi < 4; gi++) {
  blueProfiles.forEach((p, k) => addSeries(blueIds[k], p, BLUE, gi));
  orangeProfiles.forEach((p, k) => addSeries(redIds[k], p, ORANGE, gi));
}

// table text: monospace, stretched horizontally to a 12px character pitch
const colX = [12, 133, 216, 516];
const rowTop = 534.5, rowStep = 26.15;
const FONT_PX = 17;
const STRETCH = 12 / (FONT_PX * 0.6);
const textEls = [];
[geneIds, geneNames, processes, descriptions].forEach((col, c) => {
  col.forEach((t, r) => {
    textEls.push({
      type: 'text', id: 'txt_' + c + '_' + r, x: colX[c], y: rowTop + r * rowStep, scaleX: STRETCH, silent: true,
      style: {text: t, fill: '#000', font: 'bold ' + FONT_PX + 'px "Liberation Mono", "Courier New", monospace',
        align: 'left', verticalAlign: 'middle', lineHeight: 14}
    });
  });
});

const chart = echarts.init(document.getElementById('c'), null, {renderer: 'svg'});
chart.setOption({
  backgroundColor: '#fff',
  animation: false,
  grid: grids, xAxis: xAxes, yAxis: yAxes, series,
  graphic: textEls
});

// callout lines (data coords in main panel -> inset panel)
const callouts = [
  {from: [17.17, -0.84], to: [24.63, 2.84], inset: 1},
  {from: [34.05, 0.08], to: [24.63, 2.84], inset: 1},
  {from: [58.23, -0.03], to: [62.40, 3.55], inset: 2},
  {from: [64.41, -0.2], to: [62.40, 3.55], inset: 2},
  {from: [74.42, 0.49], to: [77.37, 3.55], inset: 3},
  {from: [78.88, -0.6], to: [77.37, 3.55], inset: 3}
];
const lineEls = callouts.map((c, i) => {
  const p1 = chart.convertToPixel({xAxisIndex: 0, yAxisIndex: 0}, c.from);
  const p2 = chart.convertToPixel({xAxisIndex: c.inset, yAxisIndex: c.inset}, c.to);
  return {type: 'line', id: 'call_' + i, silent: true, z: 100,
    shape: {x1: p1[0], y1: p1[1], x2: p2[0], y2: p2[1]},
    style: {stroke: '#222', lineWidth: 1}};
});
chart.setOption({graphic: lineEls});
</script></body></html>
